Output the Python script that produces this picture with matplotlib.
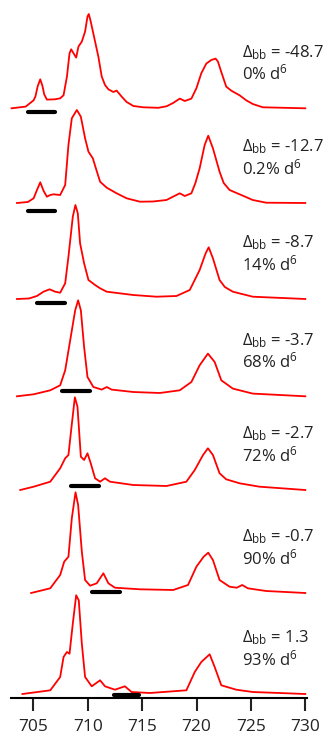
import matplotlib
matplotlib.use("Agg")
import matplotlib.pyplot as plt

plt.rcParams['font.family'] = ['Open Sans', 'DejaVu Sans']
plt.rcParams['mathtext.fontset'] = 'custom'
plt.rcParams['mathtext.rm'] = 'Open Sans'
plt.rcParams['mathtext.it'] = 'Open Sans:italic'

# ---------------- data (photon energy in eV, intensity arb. units) ----------------
delta_bb = ["-48.7", "-12.7", "-8.7", "-3.7", "-2.7", "-0.7", "1.3"]
d6_pct = ["0%", "0.2%", "14%", "68%", "72%", "90%", "93%"]

e1 = [703.0, 704.3, 705.03, 705.2, 705.4, 705.64, 705.85, 706.0, 706.25, 707.0, 707.47, 707.78,
      708.09, 708.33, 708.48, 708.7, 708.94, 709.15, 709.46, 709.76, 709.98, 710.1, 710.28,
      710.58, 710.98, 711.29, 711.59, 711.9, 712.36, 712.66, 713.12, 713.58, 714.2, 715.1,
      716.5, 717.24, 717.85, 718.46, 718.92, 719.53, 719.99, 720.44, 720.9, 721.36, 721.76,
      721.97, 722.28, 722.73, 723.19, 723.96, 724.57, 725.17, 726.1, 730.0]
i1 = [0, 1.7, 8, 12, 22, 29, 22, 14, 8.7, 9, 10, 13,
      31.6, 55, 59, 55, 50.7, 61.7, 66.7, 76.7, 91.7, 94.3, 86.7,
      71.7, 51.7, 31.7, 23.3, 19, 16.3, 17.7, 11.7, 6.3, 2.3, 1,
      0.5, 2, 5.3, 9.7, 7.3, 9.7, 20, 35, 44.7, 48.3, 49.7,
      46.7, 36.3, 21.7, 17.7, 13, 8, 4.3, 1, 0]

e2 = [703.5, 704.5, 705.03, 705.3, 705.64, 705.95, 706.25, 706.56, 706.86, 707.47, 707.93, 708.23,
      708.54, 709.0, 709.37, 709.76, 710.07, 710.47, 710.8, 711.14, 711.75, 712.66, 713.58,
      714.8, 716.0, 717.24, 718.46, 718.92, 719.53, 719.9, 720.29, 720.75, 721.08, 721.51,
      722.12, 722.5, 723.04, 724.26, 725.17, 726.4, 730.0]
i2 = [0, 1, 4.7, 12, 20.7, 12, 6.3, 8, 8.7, 8, 18, 58,
      84.7, 93, 86.3, 64.7, 51.3, 44.7, 33, 21.3, 15.3, 9.7, 4.7,
      1.3, 1.5, 3, 9.7, 7, 9.7, 20, 34.7, 58, 67.3, 54.7,
      31.3, 20, 13, 7.3, 3, 0.3, 0]

e3 = [703.5, 704.6, 705.33, 705.94, 706.5, 707.01, 707.47, 707.93, 708.23, 708.63, 708.87, 709.09,
      709.3, 709.67, 710.07, 710.68, 711.14, 711.75, 714.18, 716.32, 718.16, 719.38, 720.29,
      720.84, 721.12, 721.51, 722.12, 722.6, 723.34, 725.17, 730.0]
i3 = [0, 0.5, 3, 7.3, 9.7, 7.3, 6.3, 15.7, 42.3, 82.3, 94, 85.7,
      55.7, 35.7, 19, 14, 10.7, 7.3, 4, 2.3, 3, 9, 29,
      45.7, 51.7, 40.7, 19, 12, 7.3, 2.3, 0]

e4 = [703.5, 705.03, 706.56, 707.47, 707.93, 708.39, 708.85, 709.12, 709.37, 709.67, 709.98,
      710.52, 711.29, 711.75, 712.2, 714.18, 716.63, 718.46, 719.53, 720.29, 721.05, 721.67,
      722.28, 723.34, 725.17, 730.0]
i4 = [0, 2, 6, 11, 26, 56, 86, 96, 86, 49.3, 19.3,
      9.3, 6.7, 9.3, 6.7, 4.3, 3.3, 6, 14.3, 31, 42.7, 34.3,
      16, 7.7, 2.7, 0]

e5 = [703.8, 705.03, 706.56, 707.47, 707.93, 708.23, 708.48, 708.82, 709.06, 709.37, 709.67,
      709.98, 710.28, 710.68, 711.14, 711.59, 712.05, 714.18, 717.24, 719.07, 719.84, 720.6,
      721.05, 721.51, 722.12, 722.73, 723.96, 725.79, 730.0]
i5 = [0, 3.3, 8.3, 21.7, 31.7, 35, 60, 92.7, 83.3, 33.3, 30,
      36.7, 26.7, 11.7, 8.3, 11.7, 8.3, 5, 4, 8.3, 20, 35,
      41.7, 35, 16.7, 10.7, 6.7, 3.3, 0]

e6 = [704.8, 706.56, 707.47, 707.84, 708.23, 708.54, 708.88, 709.12, 709.46, 709.76, 710.22,
      710.83, 711.44, 711.9, 712.5, 714.8, 717.85, 719.22, 719.99, 720.66, 721.08, 721.51,
      722.12, 723.04, 723.7, 724.2, 724.72, 726.4, 730.0]
i6 = [0, 4.7, 18, 31.3, 36.3, 74.7, 100.7, 88, 41.3, 13, 7.3,
      9.7, 19.7, 9.7, 5.3, 3.7, 3, 8, 26.3, 36.3, 40.3, 33,
      13, 6.3, 5.3, 8, 4.7, 2, 0]

e7 = [704.0, 706.56, 707.47, 707.78, 708.09, 708.33, 708.63, 708.94, 709.18, 709.46, 709.76,
      710.37, 711.14, 711.59, 712.5, 713.42, 714.03, 715.71, 719.07, 719.84, 720.44, 721.21,
      721.67, 722.28, 723.66, 725.17, 730.0]
i7 = [0, 3.7, 17, 37, 42, 40.3, 70.3, 98.7, 93.7, 50.3, 17,
      7.7, 13.7, 7.7, 4.3, 7.7, 2, 1, 3.7, 22, 32, 39.7,
      27, 8.7, 4.3, 2, 0]

energies = [e1, e2, e3, e4, e5, e6, e7]
intensities = [i1, i2, i3, i4, i5, i6, i7]

# horizontal black bars: energy ranges marked under each spectrum
bar_start = [704.48, 704.48, 705.34, 707.63, 708.45, 710.37, 712.42]
bar_end = [707.01, 707.01, 707.93, 710.22, 711.04, 712.97, 714.71]

tick_values = [705, 710, 715, 720, 725, 730]

# ---------------- layout ----------------
offsets = [589.4, 494.7, 398.7, 301.4, 207.7, 104.7, 3.7]
bar_y = [586.0, 486.7, 394.7, 306.7, 211.7, 105.4, 2.7]

W, H = 335, 737
fig = plt.figure(figsize=(W / 100, H / 100), dpi=100)
x0, x1 = 10.7, 306.5
ax = fig.add_axes([x0 / W, (H - 697.7) / H, (x1 - x0) / W, 697.7 / H])
px_per_ev = 10.88
ax.set_xlim(705 + (x0 - 33.3) / px_per_ev, 705 + (x1 - 33.3) / px_per_ev)
ax.set_ylim(0, 697.7)

for e, inten, off in zip(energies, intensities, offsets):
    ax.plot(e, [v + off for v in inten], color='#ff0000', lw=1.3, clip_on=False, zorder=2)

for a, b, y in zip(bar_start, bar_end, bar_y):
    ax.plot([a, b], [y, y], color='black', lw=3.0, solid_capstyle='round', zorder=3, clip_on=False)

label_x = 705 + (242.5 - 33.3) / px_per_ev
for d, p, off in zip(delta_bb, d6_pct, offsets):
    ax.text(label_x, off + 56, r"$\Delta_{\mathrm{bb}}$ = " + d, fontsize=12, ha='left', va='center',
            color='#222222')
    ax.text(label_x, off + 35, p + r" d$^{6}$", fontsize=12, ha='left', va='center', color='#222222')

for s in ['top', 'right', 'left']:
    ax.spines[s].set_visible(False)
ax.spines['bottom'].set_linewidth(1.5)
ax.set_yticks([])
ax.set_xticks(tick_values)
ax.set_xticklabels([str(t) for t in tick_values])
ax.tick_params(axis='x', direction='out', length=9.5, width=1.5, labelsize=12.5, pad=6, colors='#222222')

fig.savefig("out.png", dpi=100)
